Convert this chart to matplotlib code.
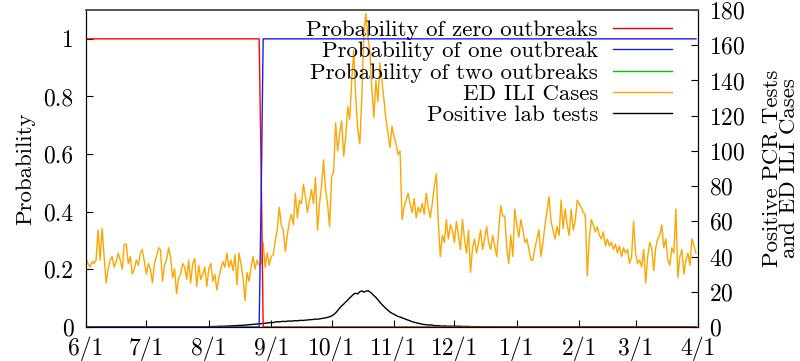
import numpy as np
import pandas as pd
import matplotlib
matplotlib.use("Agg")
import matplotlib.pyplot as plt

plt.rcParams['font.family'] = 'serif'
plt.rcParams['font.serif'] = ['cmr10']
plt.rcParams['axes.unicode_minus'] = False
plt.rcParams['axes.formatter.use_mathtext'] = True

# daily ED ILI cases, 6/1 .. 3/31
ili_jun = [39, 36, 34, 37, 36, 38, 55, 38, 56, 40, 25, 33, 38, 40, 34, 37, 42, 38, 33, 47,
           47, 36, 40, 30, 33, 38, 35, 42, 44, 37]
ili_jul = [30, 36, 33, 25, 36, 40, 45, 44, 26, 35, 38, 45, 40, 28, 33, 19, 28, 30, 36, 34,
           27, 38, 25, 36, 39, 23, 35, 27, 30, 34, 23]
ili_aug = [33, 36, 26, 30, 21, 28, 33, 37, 34, 42, 34, 38, 32, 41, 24, 42, 36, 28, 15, 31,
           26, 34, 40, 33, 38, 35, 36, 48, 34, 42, 35]
ili_sep = [40, 41, 49, 55, 68, 58, 55, 43, 52, 60, 64, 58, 76, 62, 72, 70, 81, 74, 65, 72,
           78, 70, 85, 55, 70, 80, 95, 78, 70, 57]
ili_oct = [85, 88, 116, 100, 110, 117, 97, 108, 125, 118, 140, 157, 130, 112, 104, 130, 167,
           178, 165, 157, 135, 119, 140, 128, 150, 140, 129, 118, 110, 102, 114]
ili_nov = [108, 104, 98, 100, 61, 68, 72, 76, 70, 65, 73, 62, 68, 65, 70, 64, 76, 68, 62, 70,
           80, 87, 60, 40, 52, 48, 61, 50, 58, 55]
ili_dec = [48, 60, 52, 44, 61, 50, 42, 55, 31, 45, 50, 42, 48, 55, 44, 50, 57, 48, 44, 52,
           46, 40, 55, 69, 63, 63, 45, 36, 52, 40, 67]
ili_jan = [58, 51, 61, 55, 48, 50, 44, 38, 38, 45, 50, 55, 40, 48, 58, 66, 74, 60, 55, 50,
           57, 52, 72, 56, 67, 58, 52, 67, 55, 60, 72]
ili_feb = [70, 68, 65, 64, 29, 50, 61, 58, 54, 57, 52, 50, 54, 46, 50, 46, 48, 44, 47, 42,
           46, 40, 45, 42, 44, 36, 40, 60]
ili_mar = [42, 36, 38, 34, 44, 25, 40, 48, 45, 32, 45, 50, 52, 58, 45, 50, 38, 35, 45, 42,
           67, 28, 40, 44, 30, 38, 42, 35, 50, 46, 42]
ed_ili = (ili_jun + ili_jul + ili_aug + ili_sep + ili_oct + ili_nov + ili_dec
          + ili_jan + ili_feb + ili_mar)

# positive lab tests (daily)
lab_aug = [0.2, 0.2, 0.3, 0.3, 0.3, 0.4, 0.4, 0.4, 0.5, 0.5, 0.6, 0.6, 0.7, 0.7, 0.8, 0.9,
           0.9, 1.0, 1.1, 1.2, 1.3, 1.4, 1.5, 1.6, 1.7, 1.8, 1.9, 2.0, 2.1, 2.3, 2.4]
lab_sep = [2.6, 2.5, 2.8, 3.0, 2.9, 3.1, 3.2, 3.1, 3.3, 3.4, 3.3, 3.5, 3.6, 3.5, 3.7, 3.8,
           3.7, 3.9, 4.0, 4.1, 4.2, 4.3, 4.5, 4.4, 4.6, 4.8, 5.0, 5.2, 5.5, 5.8]
lab_oct = [6.3, 7.0, 8.0, 9.3, 10.8, 12.0, 13.0, 14.2, 15.3, 16.5, 17.6, 18.7, 19.2, 18.8,
           20.0, 20.5, 19.8, 20.3, 20.6, 20.0, 19.0, 17.8, 16.8, 15.5, 14.0, 12.8, 11.6,
           10.5, 9.5, 8.5, 7.8]
lab_nov = [7.2, 6.6, 6.0, 5.7, 5.2, 4.8, 4.3, 3.9, 3.5, 3.0, 2.7, 2.4, 2.1, 1.9, 1.6, 1.4,
           1.3, 1.1, 1.2, 1.0, 0.8, 0.7, 0.8, 0.6, 0.5, 0.6, 0.5, 0.4, 0.5, 0.4]
lab_dec = [0.5, 0.4, 0.4, 0.4, 0.3, 0.3, 0.3, 0.3, 0.2, 0.2, 0.2, 0.2, 0.2, 0.1, 0.1, 0.1,
           0.1, 0.1, 0.1, 0.1, 0.1, 0.0, 0.0, 0.0, 0.0, 0.0, 0.0, 0.0, 0.0, 0.0, 0.0]
lab_tests = [0.0] * 61 + lab_aug + lab_sep + lab_oct + lab_nov + lab_dec + [0.0] * 90

# outbreak probabilities (switch at the end of August)
prob_zero = [1.0] * 87 + [0.55] + [0.0] * 216
prob_one = [0.0] * 87 + [0.45] + [1.0] * 216
prob_two = [0.0] * 304

days = pd.date_range('2009-06-01', periods=len(ed_ili), freq='D')
month_ticks = pd.date_range('2009-06-01', '2010-04-01', freq='MS')

fig = plt.figure(figsize=(8, 3.61), dpi=100)
ax = fig.add_axes([0.1075, 0.0942, 0.765, 0.878])
ax2 = ax.twinx()
ax.set_zorder(ax2.get_zorder() + 1)
ax.patch.set_visible(False)

l1, = ax.plot(days, prob_zero, color='#ff0000', lw=1, label='Probability of zero outbreaks')
l2, = ax.plot(days, prob_one, color='#1a1aff', lw=1, label='Probability of one outbreak')
l3, = ax.plot(days, prob_two, color='#00cc00', lw=1, label='Probability of two outbreaks')
l4, = ax2.plot(days, ed_ili, color='#ffa500', lw=1, label='ED ILI Cases')
l5, = ax2.plot(days, lab_tests, color='black', lw=1, label='Positive lab tests')

ax.set_xlim(pd.Timestamp('2009-06-01'), pd.Timestamp('2010-04-01'))
ax.set_ylim(0, 1.1)
ax2.set_ylim(0, 180)
ax.set_yticks([0, 0.2, 0.4, 0.6, 0.8, 1])
ax.set_yticklabels(['0', '0.2', '0.4', '0.6', '0.8', '1'])
ax2.set_yticks(range(0, 181, 20))
ax.set_xticks(month_ticks)
ax.set_xticklabels([f"{d.month}/{d.day}" for d in month_ticks])

for a in (ax, ax2):
    a.tick_params(direction='in', length=5, width=0.8, labelsize=17)
    a.spines['top'].set_color('#555555')
    a.spines['top'].set_linewidth(1.2)
ax.tick_params(axis='y', pad=9)
ax.tick_params(axis='x', pad=7)
ax2.tick_params(axis='y', pad=8)
ax.set_ylabel('Probability', fontsize=16.5, labelpad=6)
ax2.set_ylabel('Positive PCR Tests\nand ED ILI Cases', fontsize=16.5, labelpad=12,
               linespacing=0.85)

ax.legend(handles=[l1, l2, l3, l4, l5], loc='upper right', bbox_to_anchor=(0.9575, 0.968),
          frameon=False, markerfirst=False, fontsize=16.5, handlelength=2.58,
          labelspacing=0.05, handletextpad=0.65, borderaxespad=0, borderpad=0)

fig.savefig('out.png', dpi=100)
